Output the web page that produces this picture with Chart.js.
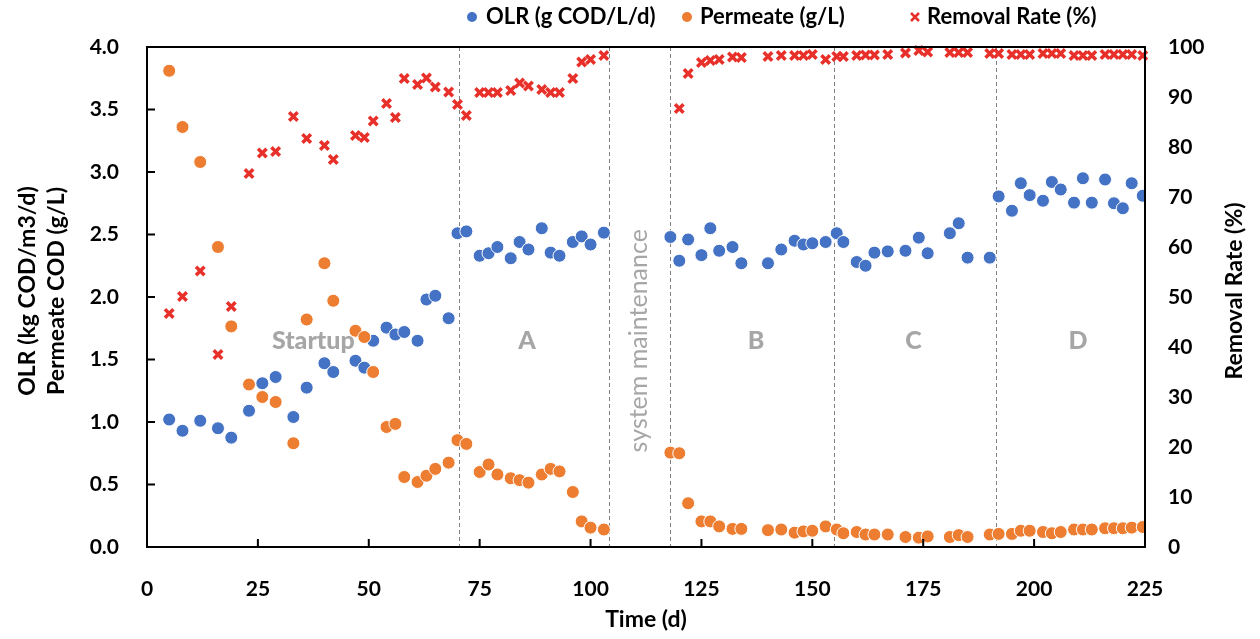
<!DOCTYPE html>
<html>
<head>
<meta charset="utf-8">
<script src="https://cdn.jsdelivr.net/npm/chart.js@4"></script>
<style>
  body { margin: 0; background: #fff; }
  #wrap { width: 1260px; height: 639px; }
</style>
</head>
<body>
<div id="wrap"><canvas id="myChart" width="1260" height="639"></canvas></div>
<script>
// sampling days (d)
const days = [5, 8, 12, 16, 19, 23, 26, 29, 33, 36, 40, 42, 47, 49, 51, 54, 56, 58, 61, 63, 65, 68,
  70, 72, 75, 77, 79, 82, 84, 86, 89, 91, 93, 96, 98, 100, 103,
  118, 120, 122, 125, 127, 129, 132, 134, 140, 143, 146, 148, 150, 153, 155.5, 157, 160, 162, 164,
  167, 171, 174, 176, 181, 183, 185, 190,
  192, 195, 197, 199, 202, 204, 206, 209, 211, 213, 216, 218, 220, 222, 224.5];

// OLR (g COD/L/d)
const olr = [1.02, 0.93, 1.01, 0.95, 0.875, 1.09, 1.31, 1.36, 1.04, 1.275, 1.47, 1.40, 1.49, 1.435, 1.65, 1.755, 1.70, 1.72, 1.65, 1.98, 2.01, 1.83,
  2.51, 2.525, 2.33, 2.35, 2.40, 2.31, 2.44, 2.38, 2.55, 2.355, 2.33, 2.44, 2.485, 2.42, 2.515,
  2.48, 2.29, 2.46, 2.335, 2.55, 2.37, 2.40, 2.27, 2.27, 2.38, 2.45, 2.42, 2.43, 2.44, 2.51, 2.44, 2.28, 2.25, 2.355,
  2.365, 2.37, 2.475, 2.35, 2.51, 2.59, 2.315, 2.315,
  2.805, 2.69, 2.91, 2.815, 2.77, 2.92, 2.86, 2.755, 2.95, 2.755, 2.94, 2.75, 2.71, 2.91, 2.81];

// permeate COD (g/L)
const permeate = [3.81, 3.36, 3.08, 2.40, 1.765, 1.30, 1.20, 1.16, 0.83, 1.82, 2.27, 1.97, 1.73, 1.68, 1.40, 0.96, 0.985, 0.56, 0.52, 0.57, 0.625, 0.675,
  0.855, 0.825, 0.60, 0.66, 0.58, 0.55, 0.535, 0.515, 0.58, 0.625, 0.605, 0.44, 0.205, 0.155, 0.14,
  0.755, 0.75, 0.35, 0.205, 0.205, 0.165, 0.145, 0.145, 0.135, 0.14, 0.115, 0.125, 0.13, 0.165, 0.14, 0.11, 0.12, 0.10, 0.10,
  0.10, 0.08, 0.075, 0.085, 0.08, 0.095, 0.08, 0.10,
  0.105, 0.105, 0.13, 0.13, 0.12, 0.11, 0.12, 0.14, 0.14, 0.14, 0.15, 0.15, 0.15, 0.155, 0.16];

// removal rate (%)
const removal = [46.7, 50.1, 55.2, 38.5, 48.1, 74.7, 78.8, 79.1, 86.1, 81.7, 80.3, 77.5, 82.3, 81.9, 85.2, 88.7, 85.9, 93.7, 92.5, 93.8, 92.0, 91.0,
  88.5, 86.3, 90.9, 90.9, 90.9, 91.3, 92.8, 92.2, 91.5, 90.9, 90.9, 93.7, 97.0, 97.5, 98.3,
  null, 87.7, 94.7, 96.9, 97.3, 97.5, 98.0, 97.9, 98.1, 98.3, 98.3, 98.3, 98.5, 97.5, 98.1, 98.1, 98.3, 98.4, 98.4,
  98.5, 98.8, 99.3, 99.0, 98.9, 98.9, 98.9, 98.7,
  98.7, 98.5, 98.5, 98.5, 98.7, 98.7, 98.7, 98.3, 98.3, 98.3, 98.5, 98.5, 98.5, 98.5, 98.3];

// phase boundaries and labels
const phaseLines = [70.3, 104.1, 117.9, 154.9, 191.4];
const phaseNames = ["Startup", "A", "B", "C", "D"];
const phaseNameDays = [37.5, 85.7, 137.3, 172.8, 209.9];
const phaseNameLevel = 1.65;
const maintenanceText = "system maintenance";
const maintenanceDay = 111;

const seriesNames = ["OLR (g COD/L/d)", "Permeate (g/L)", "Removal Rate (%)"];
const seriesColors = ["#4472C4", "#ED7D31", "#E8302A"];
const legendMarkerX = [472, 687, 915];
const legendTextX = [486, 700, 927];

const FONT = "Lato, 'Open Sans', sans-serif";

function toPoints(values) {
  const pts = [];
  days.forEach((d, i) => {
    if (values[i] !== null) pts.push({ x: d, y: values[i] });
  });
  return pts;
}

// frame, inner ticks, phase lines, labels, legend, axis titles
const decorPlugin = {
  id: "decor",
  beforeDatasetsDraw(chart) {
    const { ctx, chartArea, scales } = chart;
    ctx.save();
    ctx.strokeStyle = "#7f7f7f";
    ctx.lineWidth = 1;
    ctx.setLineDash([4, 3]);
    phaseLines.forEach((d) => {
      const x = Math.round(scales.x.getPixelForValue(d)) + 0.5;
      ctx.beginPath();
      ctx.moveTo(x, chartArea.top);
      ctx.lineTo(x, chartArea.bottom);
      ctx.stroke();
    });
    ctx.setLineDash([]);

    // phase names
    ctx.fillStyle = "#a6a6a6";
    ctx.font = "900 25px " + FONT;
    ctx.textAlign = "center";
    ctx.textBaseline = "middle";
    phaseNames.forEach((name, i) => {
      ctx.fillText(name, scales.x.getPixelForValue(phaseNameDays[i]), scales.y.getPixelForValue(phaseNameLevel));
    });

    // maintenance label (vertical)
    ctx.save();
    ctx.translate(scales.x.getPixelForValue(maintenanceDay), scales.y.getPixelForValue(phaseNameLevel));
    ctx.rotate(-Math.PI / 2);
    ctx.font = "25px " + FONT;
    ctx.fillText(maintenanceText, 0, 0);
    ctx.restore();
    ctx.restore();
  },
  afterDraw(chart) {
    const { ctx, chartArea, scales } = chart;
    const { left, right, top, bottom } = chartArea;
    ctx.save();
    ctx.strokeStyle = "#000";
    ctx.lineWidth = 2;
    ctx.strokeRect(left, top, right - left, bottom - top);

    // inner tick marks
    ctx.beginPath();
    scales.y.ticks.forEach((t) => {
      const y = scales.y.getPixelForValue(t.value);
      ctx.moveTo(left, y);
      ctx.lineTo(left + 8, y);
    });
    scales.x.ticks.forEach((t) => {
      const x = scales.x.getPixelForValue(t.value);
      ctx.moveTo(x, bottom);
      ctx.lineTo(x, bottom - 8);
    });
    ctx.stroke();

    // legend
    ctx.textBaseline = "middle";
    ctx.textAlign = "left";
    ctx.font = "bold 22px " + FONT;
    const ly = 17;
    seriesNames.forEach((name, i) => {
      ctx.fillStyle = seriesColors[i];
      ctx.strokeStyle = seriesColors[i];
      if (i < 2) {
        ctx.beginPath();
        ctx.arc(legendMarkerX[i], ly, 5, 0, Math.PI * 2);
        ctx.fill();
      } else {
        ctx.lineWidth = 2.5;
        ctx.beginPath();
        ctx.moveTo(legendMarkerX[i] - 4, ly - 4);
        ctx.lineTo(legendMarkerX[i] + 4, ly + 4);
        ctx.moveTo(legendMarkerX[i] + 4, ly - 4);
        ctx.lineTo(legendMarkerX[i] - 4, ly + 4);
        ctx.stroke();
      }
      ctx.fillStyle = "#000";
      ctx.fillText(name, legendTextX[i], ly);
    });

    // axis titles
    ctx.fillStyle = "#000";
    ctx.textAlign = "center";
    ctx.font = "bold 23px " + FONT;
    const midY = (top + bottom) / 2 - 6;
    ctx.save();
    ctx.translate(28, midY);
    ctx.rotate(-Math.PI / 2);
    ctx.fillText("OLR (kg COD/m3/d)", 0, 0);
    ctx.restore();
    ctx.save();
    ctx.translate(57, midY);
    ctx.rotate(-Math.PI / 2);
    ctx.fillText("Permeate COD (g/L)", 0, 0);
    ctx.restore();
    ctx.save();
    ctx.translate(1235, midY);
    ctx.rotate(-Math.PI / 2);
    ctx.fillText("Removal Rate (%)", 0, 0);
    ctx.restore();
    ctx.fillText("Time (d)", (left + right) / 2, 620);
    ctx.restore();
  },
};

const ctx = document.getElementById("myChart").getContext("2d");
new Chart(ctx, {
  type: "scatter",
  data: {
    datasets: [
      {
        label: seriesNames[0],
        data: toPoints(olr),
        yAxisID: "y",
        backgroundColor: seriesColors[0],
        borderColor: "#ffffff",
        borderWidth: 1,
        pointRadius: 6.5,
        order: 3,
      },
      {
        label: seriesNames[1],
        data: toPoints(permeate),
        yAxisID: "y",
        backgroundColor: seriesColors[1],
        borderColor: "#ffffff",
        borderWidth: 1,
        pointRadius: 6.5,
        order: 2,
      },
      {
        label: seriesNames[2],
        data: toPoints(removal),
        yAxisID: "y1",
        pointStyle: "crossRot",
        borderColor: seriesColors[2],
        backgroundColor: seriesColors[2],
        borderWidth: 3.5,
        pointRadius: 6,
        clip: false,
        order: 1,
      },
    ],
  },
  options: {
    responsive: false,
    animation: false,
    layout: { padding: { top: 47, bottom: 0, left: 0, right: 0 } },
    plugins: { legend: { display: false }, tooltip: { enabled: false } },
    scales: {
      x: {
        type: "linear",
        min: 0,
        max: 225,
        grid: { display: false },
        border: { display: false },
        ticks: { stepSize: 25, color: "#000", padding: 22, font: { family: FONT, size: 21, weight: "bold" } },
        afterFit: (scale) => { scale.height = 92; },
      },
      y: {
        position: "left",
        min: 0,
        max: 4,
        grid: { display: false },
        border: { display: false },
        ticks: {
          stepSize: 0.5,
          color: "#000",
          padding: 20,
          font: { family: FONT, size: 21, weight: "bold" },
          callback: (v) => v.toFixed(1),
        },
        afterFit: (scale) => { scale.width = 147; },
      },
      y1: {
        position: "right",
        min: 0,
        max: 100,
        grid: { display: false },
        border: { display: false },
        ticks: { stepSize: 10, color: "#000", padding: 15, font: { family: FONT, size: 21, weight: "bold" } },
        afterFit: (scale) => { scale.width = 115; },
      },
    },
  },
  plugins: [decorPlugin],
});
</script>
</body>
</html>
